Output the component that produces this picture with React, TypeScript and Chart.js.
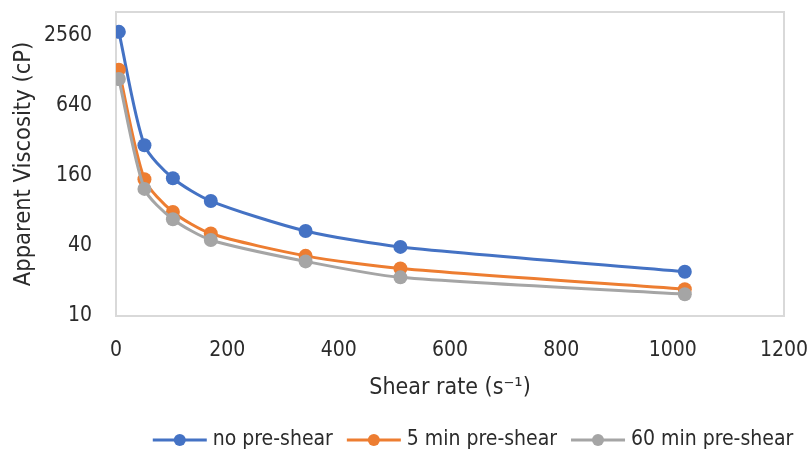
import React, { useEffect, useRef } from "react";
import { Chart, registerables } from "chart.js";

Chart.register(...registerables);

const shearRate = [5.11, 51.1, 102.2, 170.3, 340.6, 510.9, 1021.8];
const noPreShear = [2780, 294, 153, 97.5, 53.9, 39.3, 24.0];
const fiveMinPreShear = [1312, 150, 78.5, 51.2, 32.9, 25.6, 17.0];
const sixtyMinPreShear = [1092, 124, 68, 45.1, 29.5, 21.5, 15.4];
const seriesNames = ["no pre-shear", "5 min pre-shear", "60 min pre-shear"];
const seriesColors = ["#4472C4", "#ED7D31", "#A5A5A5"];
const yTicks = [10, 40, 160, 640, 2560];
const xTitle = "Shear rate (s\u207B\u00B9)";
const yTitle = "Apparent Viscosity (cP)";

const FONT = "'DejaVu Sans Condensed', 'DejaVu Sans', sans-serif";
const TEXT = "#2b2b2b";

const frame = {
  id: "frame",
  beforeDatasetsDraw(chart: any) {
    const { ctx, chartArea: a } = chart;
    ctx.save();
    ctx.strokeStyle = "#d9d9d9";
    ctx.lineWidth = 2;
    ctx.strokeRect(a.left, a.top, a.right - a.left, a.bottom - a.top);
    ctx.restore();
  },
};

const legend = {
  id: "customLegend",
  afterDraw(chart: any) {
    const ctx = chart.ctx;
    ctx.save();
    ctx.font = `21px ${FONT}`;
    const lineLen = 54;
    const gapText = 6;
    const gapItem = 14;
    const widths = seriesNames.map((n) => ctx.measureText(n).width);
    let total = 0;
    widths.forEach((w, i) => {
      total += lineLen + gapText + w + (i < widths.length - 1 ? gapItem : 0);
    });
    let x = 473 - total / 2;
    const y = 440;
    seriesNames.forEach((n, i) => {
      ctx.strokeStyle = seriesColors[i];
      ctx.lineWidth = 3;
      ctx.beginPath();
      ctx.moveTo(x, y);
      ctx.lineTo(x + lineLen, y);
      ctx.stroke();
      ctx.fillStyle = seriesColors[i];
      ctx.beginPath();
      ctx.arc(x + lineLen / 2, y, 6, 0, Math.PI * 2);
      ctx.fill();
      ctx.fillStyle = TEXT;
      ctx.textBaseline = "middle";
      ctx.textAlign = "left";
      ctx.fillText(n, x + lineLen + gapText, y);
      x += lineLen + gapText + widths[i] + gapItem;
    });
    ctx.restore();
  },
};

export default function App() {
  const ref = useRef<HTMLCanvasElement>(null);
  useEffect(() => {
    document.body.style.margin = "0";
    const mk = (label: string, data: number[], color: string, order: number) => ({
      label,
      data: data.map((v, i) => ({ x: shearRate[i], y: v })),
      borderColor: color,
      backgroundColor: color,
      borderWidth: 3,
      pointRadius: 7,
      pointHoverRadius: 7,
      pointBorderWidth: 0,
      tension: 0.25,
      order,
    });
    const chart = new Chart(ref.current!, {
      type: "line",
      data: {
        datasets: [
          mk(seriesNames[0], noPreShear, seriesColors[0], 2),
          mk(seriesNames[1], fiveMinPreShear, seriesColors[1], 1),
          mk(seriesNames[2], sixtyMinPreShear, seriesColors[2], 0),
        ],
      },
      options: {
        responsive: false,
        animation: false,
        layout: { padding: { top: 12, right: 27, left: 0, bottom: 0 } },
        plugins: { legend: { display: false }, tooltip: { enabled: false } },
        scales: {
          x: {
            type: "linear",
            min: 0,
            max: 1200,
            afterFit: (s: any) => {
              s.height = 134;
              s.paddingLeft = 0;
              s.paddingRight = 0;
            },
            ticks: {
              stepSize: 200,
              padding: 22,
              color: TEXT,
              font: { family: FONT, size: 21 },
              callback: (v: any) => String(v),
            },
            grid: { display: false, drawTicks: false },
            border: { display: false },
            title: {
              display: true,
              text: xTitle,
              color: TEXT,
              font: { family: FONT, size: 23 },
              padding: { top: 0, bottom: 48 },
            },
          },
          y: {
            type: "logarithmic",
            min: 10,
            max: 4120,
            afterFit: (s: any) => {
              s.width = 116;
              s.paddingTop = 0;
              s.paddingBottom = 0;
            },
            afterBuildTicks: (s: any) => {
              s.ticks = yTicks.map((v) => ({ value: v }));
            },
            ticks: {
              padding: 24,
              color: TEXT,
              font: { family: FONT, size: 21 },
              callback: (v: any) => String(v),
            },
            grid: { display: false, drawTicks: false },
            border: { display: false },
            title: {
              display: true,
              text: yTitle,
              color: TEXT,
              font: { family: FONT, size: 23.5 },
              padding: { top: 10, bottom: 0 },
            },
          },
        },
      },
      plugins: [frame, legend],
    });
    return () => chart.destroy();
  }, []);
  return (
    <div style={{ width: 811, height: 450, background: "#fff" }}>
      <canvas ref={ref} width={811} height={450} />
    </div>
  );
}
